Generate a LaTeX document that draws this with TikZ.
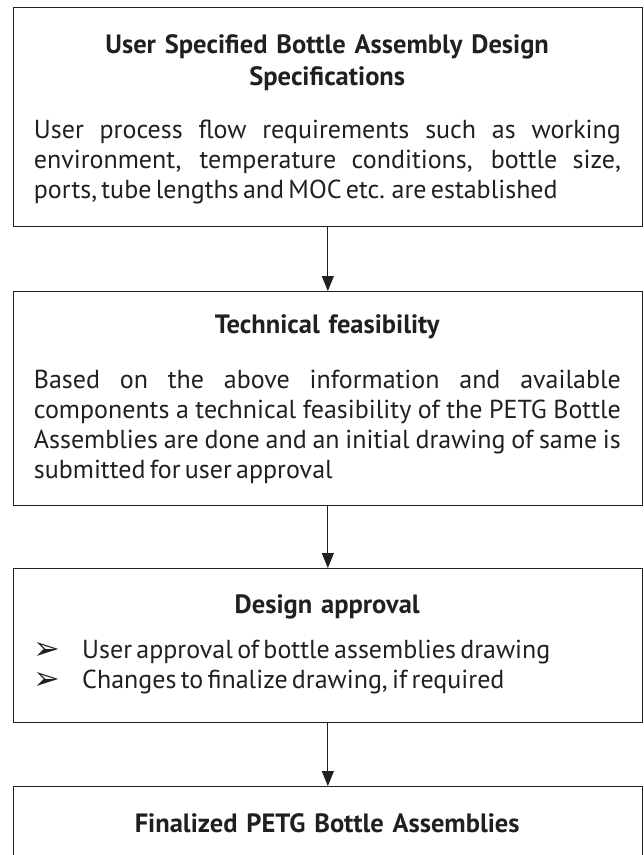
\documentclass[tikz,border=0pt]{standalone}
\usepackage{fontspec}
\setmainfont{PT Sans}[WordSpace={0.62,0.6,0.55}]
\newfontfamily\symfont{DejaVu Sans}
\usetikzlibrary{arrows.meta}
\definecolor{ink}{HTML}{231F20}
\begin{document}
\begin{tikzpicture}[x=1pt,y=1pt,
  box/.style={draw=ink, line width=1.3pt, minimum width=629pt, anchor=north west, inner sep=0pt},
  ttl/.style={font=\fontsize{26.5}{32}\selectfont\bfseries, text=ink, text width=600pt, align=center, anchor=base, inner sep=0pt},
  body/.style={font=\fontsize{26}{30}\selectfont, text=ink, text width=587pt, align=justify, anchor=base west, inner sep=0pt},
  bul/.style={font=\symfont\fontsize{32}{32}\selectfont, text=ink, anchor=base west, inner sep=0pt},
  item/.style={font=\fontsize{26}{30}\selectfont, text=ink, anchor=base west, inner sep=0pt},
  flow/.style={draw=ink, line width=0.9pt, -{Triangle[length=15pt,width=12pt]}}]
\clip (0,0) rectangle (644,-855);
% boxes
\node[box, minimum height=219pt] (b1) at (12.7,-7) {};
\node[box, minimum height=214pt] (b2) at (12.7,-291) {};
\node[box, minimum height=154pt] (b3) at (12.7,-568) {};
\node[box, minimum height=120pt] (b4) at (12.7,-786) {};
% box 1
\node[ttl] (t1) at (327.2,-53) {User Specified Bottle Assembly Design\\Specifications};
\node[body] (p1) at (33.7,-138) {User process flow requirements such as working\linebreak environment, temperature conditions, bottle size,\linebreak ports, tube lengths and MOC etc. are established};
% box 2
\node[ttl] (t2) at (327.2,-333) {Technical feasibility};
\node[body] (p2) at (33.7,-388) {Based on the above information and available\linebreak components a technical feasibility of the PETG Bottle\linebreak Assemblies are done and an initial drawing of same is\linebreak submitted for user approval};
% box 3
\node[ttl] (t3) at (327.2,-613) {Design approval};
\node[bul] (s1) at (33,-659) {➢};
\node[item] (i1) at (82,-658) {User approval of bottle assemblies drawing};
\node[bul] (s2) at (33,-689) {➢};
\node[item] (i2) at (82,-688) {Changes to finalize drawing, if required};
% box 4
\node[ttl] (t4) at (327.2,-832) {Finalized PETG Bottle Assemblies};
% connectors
\draw[flow] (b1.south) -- (b2.north);
\draw[flow] (b2.south) -- (b3.north);
\draw[flow] (b3.south) -- (b4.north);
\end{tikzpicture}
\end{document}
